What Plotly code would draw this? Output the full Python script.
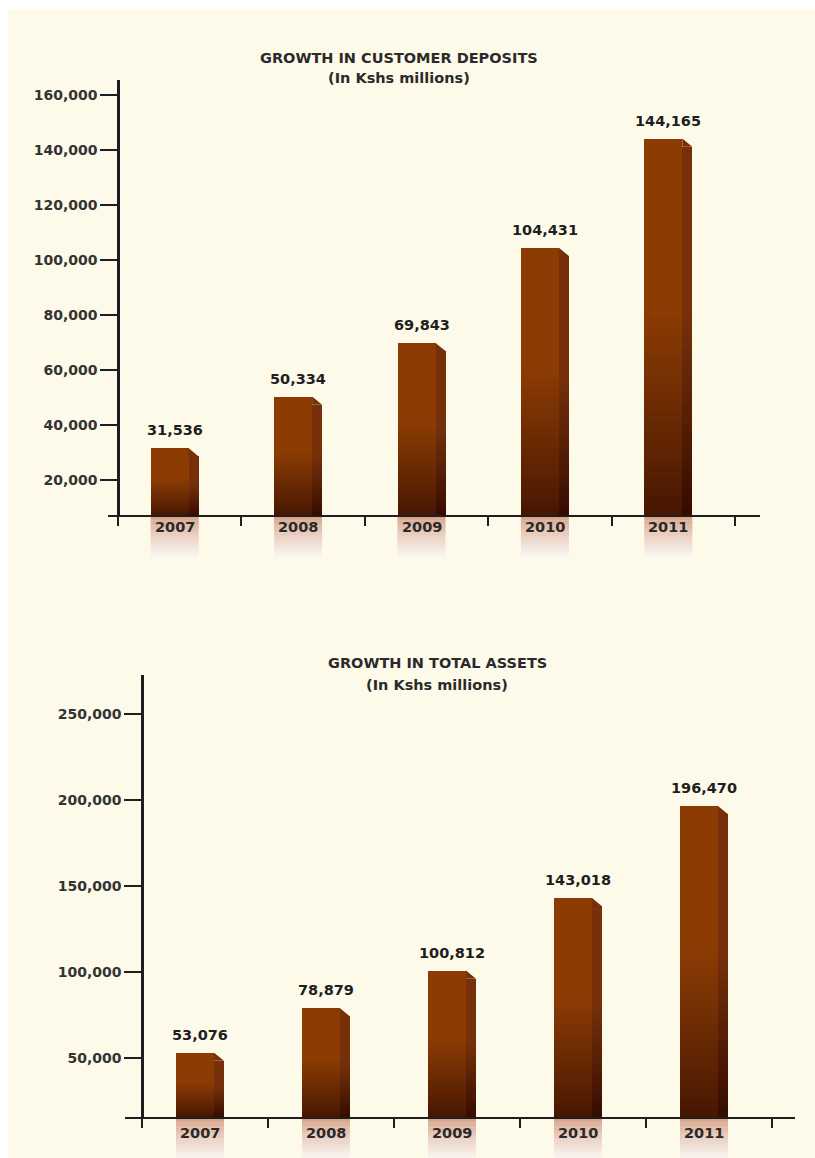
import plotly.graph_objects as go

# ---- data -------------------------------------------------------------
years = ["2007", "2008", "2009", "2010", "2011"]
deposits = [31536, 50334, 69843, 104431, 144165]
assets = [53076, 78879, 100812, 143018, 196470]

deposit_ticks = [20000, 40000, 60000, 80000, 100000, 120000, 140000, 160000]
asset_ticks = [50000, 100000, 150000, 200000, 250000]

deposit_title = "GROWTH IN CUSTOMER DEPOSITS"
asset_title = "GROWTH IN TOTAL ASSETS"
unit_note = "(In Kshs millions)"

# ---- page geometry (pixels) ------------------------------------------
W, H = 815, 1158
FONT = "DejaVu Sans"
INK = "#1e1e1e"
CREAM = "#FDFAEA"
TITLE_SIZE = 14.5
TICK_SIZE = 14
LABEL_SIZE = 14.5


def fx(px):
    return px / W


def fy(py):
    return 1 - py / H


def hex_rgb(h):
    h = h.lstrip("#")
    return tuple(int(h[i:i + 2], 16) for i in (0, 2, 4))


def mix(c0, c1, t):
    a, b = hex_rgb(c0), hex_rgb(c1)
    return "rgb(%d,%d,%d)" % tuple(round(a[i] + (b[i] - a[i]) * t) for i in range(3))


FRONT_TOP, FRONT_BOT = "#8C3C03", "#451602"
SIDE_TOP, SIDE_BOT = "#76310A", "#340B01"
REFL_TOP, REFL_BOT = "#D39A7E", "#FCF9F6"

charts = [
    dict(xa="x", ya="y", values=deposits, ticks=deposit_ticks,
         title=deposit_title, title_xy=(399, 58), note_y=78,
         plot_x=(108, 760), cat_x0=118, cat_w=123.4,
         y_px=(80, 515), ref=(160000, 95), per_px=20000 / 55,
         year_y=527),
    dict(xa="x2", ya="y2", values=assets, ticks=asset_ticks,
         title=asset_title, title_xy=(437, 663), note_y=685,
         plot_x=(125, 795), cat_x0=142, cat_w=126.0,
         y_px=(675, 1117), ref=(250000, 714), per_px=50000 / 86,
         year_y=1133),
]

fig = go.Figure()
shapes = [dict(type="rect", xref="paper", yref="paper",
               x0=fx(8), x1=1, y0=0, y1=fy(10),
               fillcolor=CREAM, line=dict(width=0), layer="below")]
annotations = []
N = 40  # gradient slices per bar face

for ci, ch in enumerate(charts):
    cw = ch["cat_w"]
    ref_v, ref_py = ch["ref"]
    ppx = ch["per_px"]

    def val_at(py):
        return ref_v - (py - ref_py) * ppx

    ymin = val_at(ch["y_px"][1])
    ymax = val_at(ch["y_px"][0])
    x_lo = -0.5 - (ch["cat_x0"] - ch["plot_x"][0]) / cw
    x_hi = -0.5 + (ch["plot_x"][1] - ch["cat_x0"]) / cw

    # bar faces relative to category centre, in pixels
    front_l, front_r, side_r = -29, 9, 19
    front_c = ((front_l + front_r) / 2) / cw
    front_w = (front_r - front_l) / cw
    side_c = ((front_r + side_r) / 2) / cw
    side_w = (side_r - front_r) / cw
    whole_c = ((front_l + side_r) / 2) / cw
    bevel = 8 * ppx

    vals = ch["values"]
    idx = list(range(len(vals)))

    def add_face(tops, centre, width, c_top, c_bot):
        for k in range(N):
            t = (k + 0.5) / N
            col = c_top if t >= 0.55 else mix(c_bot, c_top, (t / 0.55) ** 0.9)
            bases, heights = [], []
            for top in tops:
                step = (top - ymin) / N
                bases.append(ymin + step * k)
                heights.append(step * (1.35 if k < N - 1 else 1.0))
            fig.add_trace(go.Bar(
                x=[i + centre for i in idx], y=heights, base=bases,
                width=[width] * len(idx), marker=dict(color=col, line=dict(width=0)),
                xaxis=ch["xa"], yaxis=ch["ya"], hoverinfo="skip", showlegend=False))

    add_face(vals, front_c, front_w, FRONT_TOP, FRONT_BOT)
    add_face([v - bevel for v in vals], side_c, side_w, SIDE_TOP, SIDE_BOT)

    # bevelled top edge of the side face
    bx, by = [], []
    for i, v in zip(idx, vals):
        xl = i + front_r / cw
        xr = i + side_r / cw
        bx += [xl, xr, xr, xl, xl, None]
        by += [v, v - bevel, v - bevel * 1.02, v - bevel * 1.02, v, None]
    fig.add_trace(go.Scatter(x=bx, y=by, mode="lines", fill="toself",
                             fillcolor=SIDE_TOP, line=dict(width=0, color=SIDE_TOP),
                             xaxis=ch["xa"], yaxis=ch["ya"], hoverinfo="skip",
                             showlegend=False))

    # value labels
    for i, v in zip(idx, vals):
        annotations.append(dict(
            x=i + whole_c, y=v, xref=ch["xa"], yref=ch["ya"],
            text=f"{v:,}", showarrow=False, yshift=18, yanchor="middle",
            font=dict(family=FONT, size=LABEL_SIZE, color=INK, weight="bold")))

    # reflections under the axis and year labels
    y0_px = ch["y_px"][1] + 1
    refl_h = 43
    strips = 18
    for i in idx:
        for s in range(strips):
            a = y0_px + refl_h * s / strips
            b = y0_px + refl_h * (s + 1) / strips
            shapes.append(dict(
                type="rect", xref=ch["xa"], yref="paper",
                x0=i + front_l / cw, x1=i + side_r / cw,
                y0=fy(b), y1=fy(a) + 0.0003,
                fillcolor=mix(REFL_TOP, REFL_BOT, ((s + 0.5) / strips) ** 0.75),
                line=dict(width=0), layer="below"))
        annotations.append(dict(
            x=i + whole_c, y=fy(ch["year_y"]), xref=ch["xa"], yref="paper",
            text=years[i], showarrow=False, yanchor="middle",
            font=dict(family=FONT, size=LABEL_SIZE, color="#2a2a2a", weight="bold")))

    # titles
    tx, ty = ch["title_xy"]
    annotations.append(dict(
        x=fx(tx), y=fy(ty), xref="paper", yref="paper", text=ch["title"],
        showarrow=False, yanchor="middle",
        font=dict(family=FONT, size=TITLE_SIZE, color="#2a2a2a", weight="bold")))
    annotations.append(dict(
        x=fx(tx), y=fy(ch["note_y"]), xref="paper", yref="paper", text=unit_note,
        showarrow=False, yanchor="middle",
        font=dict(family=FONT, size=TITLE_SIZE, color="#2a2a2a", weight="bold")))

    ax_suffix = "" if ci == 0 else "2"
    fig.layout["xaxis" + ax_suffix] = dict(
        domain=[fx(ch["plot_x"][0]), fx(ch["plot_x"][1])],
        range=[x_lo, x_hi], anchor=ch["ya"],
        showline=True, linewidth=2, linecolor=INK,
        tickmode="array", tickvals=[b - 0.5 for b in range(len(vals) + 1)],
        ticks="outside", ticklen=9, tickwidth=2, tickcolor=INK,
        showticklabels=False, showgrid=False, zeroline=False, fixedrange=True)
    fig.layout["yaxis" + ax_suffix] = dict(
        domain=[fy(ch["y_px"][1]), fy(ch["y_px"][0])],
        range=[ymin, ymax], anchor="free", position=fx(ch["cat_x0"]),
        showline=True, linewidth=2.5, linecolor=INK,
        tickmode="array", tickvals=ch["ticks"],
        ticktext=[f"{t:,}" for t in ch["ticks"]],
        ticks="outside", ticklen=17, tickwidth=2, tickcolor=INK,
        tickfont=dict(family=FONT, size=TICK_SIZE, color="#333333", weight="bold"),
        showgrid=False, zeroline=False, fixedrange=True)

fig.update_layout(
    width=W, height=H, margin=dict(l=0, r=0, t=0, b=0),
    paper_bgcolor="white", plot_bgcolor="rgba(0,0,0,0)",
    barmode="overlay", bargap=0, showlegend=False,
    shapes=shapes, annotations=annotations)

fig.write_html("out.html", config={"displayModeBar": False})
